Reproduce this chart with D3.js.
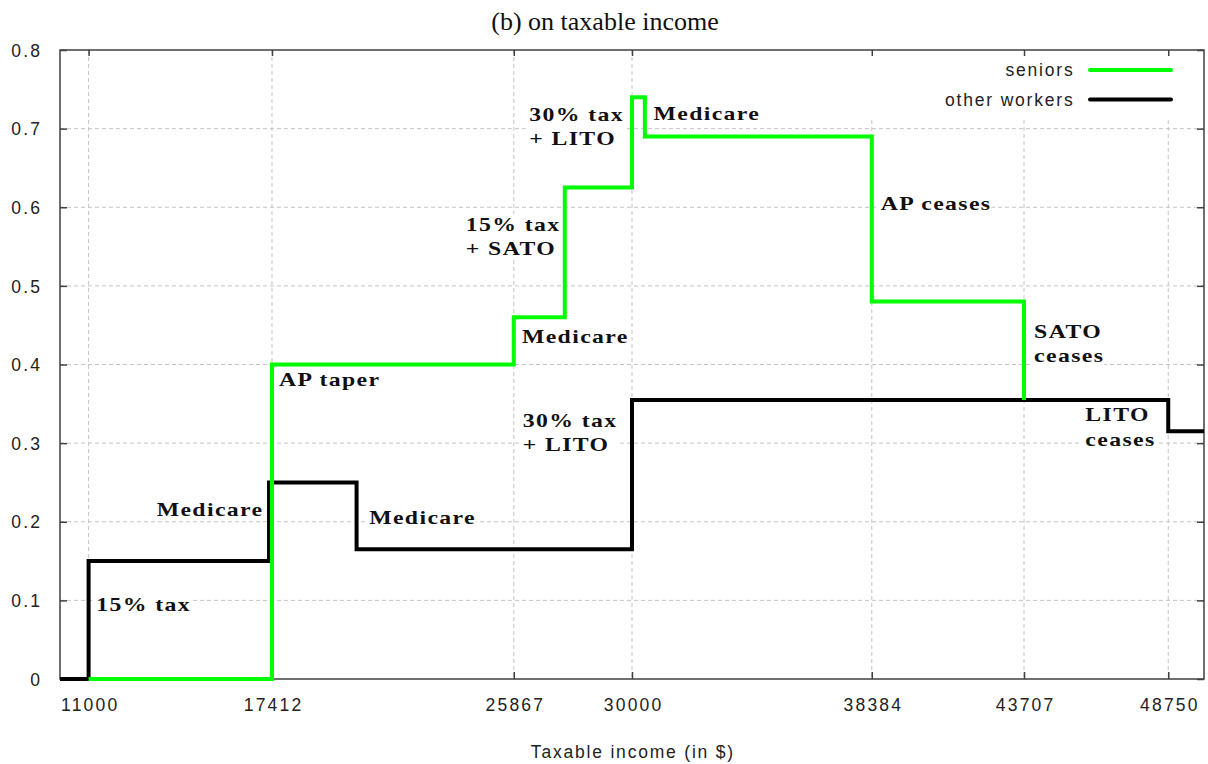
<!DOCTYPE html>
<html><head><meta charset="utf-8">
<script src="https://cdn.jsdelivr.net/npm/d3@7"></script>
<style>body{margin:0;background:#fff}</style>
</head><body>
<svg id="c" width="1208" height="764"></svg>
<script>
// ---- data ----
const xTickValues = [11000, 17412, 25867, 30000, 38384, 43707, 48750];
const yTickValues = [0, 0.1, 0.2, 0.3, 0.4, 0.5, 0.6, 0.7, 0.8];
const yTickLabels = ["0", "0.1", "0.2", "0.3", "0.4", "0.5", "0.6", "0.7", "0.8"];
const seniorsIncome = [11000, 17412, 25867, 27650, 30000, 30450, 38384, 43707];
const seniorsRate   = [0, 0.40, 0.46, 0.625, 0.74, 0.69, 0.48, 0.355];
const workersIncome = [10000, 11000, 17309, 20370, 30000, 48750, 50000];
const workersRate   = [0, 0.15, 0.25, 0.165, 0.355, 0.315, 0.315];
const seriesNames = ["seniors", "other workers"];
const annotations = [
  {lines: ["15% tax"], x: 11270, y: 0.087},
  {lines: ["Medicare"], x: 13380, y: 0.207},
  {lines: ["Medicare"], x: 20810, y: 0.197},
  {lines: ["AP taper"], x: 17660, y: 0.373},
  {lines: ["Medicare"], x: 26150, y: 0.427},
  {lines: ["15% tax", "+ SATO"], x: 24190, y: 0.570},
  {lines: ["30% tax", "+ LITO"], x: 26410, y: 0.710},
  {lines: ["Medicare"], x: 30750, y: 0.711},
  {lines: ["AP ceases"], x: 38700, y: 0.597},
  {lines: ["SATO", "ceases"], x: 44060, y: 0.434},
  {lines: ["30% tax", "+ LITO"], x: 26180, y: 0.321},
  {lines: ["LITO", "ceases"], x: 45850, y: 0.328}
];

// ---- layout ----
const svg = d3.select("#c");
const L = 60, R = 1204, T = 50, B = 679;
const x = d3.scaleLinear().domain([10000, 50000]).range([L, R]);
const y = d3.scaleLinear().domain([0, 0.8]).range([B, T]);
const sans = "'Liberation Sans', Arial, sans-serif";
const serif = "'Liberation Serif', 'Times New Roman', serif";
const axisColor = "#404040";

// grid
const grid = svg.append("g");
grid.selectAll(".vg").data(xTickValues).enter().append("line")
  .attr("x1", d => x(d)).attr("x2", d => x(d)).attr("y1", T).attr("y2", B)
  .attr("stroke", "#c4c4c4").attr("stroke-width", 1).attr("stroke-dasharray", "4,3");
grid.selectAll(".hg").data(yTickValues.slice(1, -1)).enter().append("line")
  .attr("x1", L).attr("x2", R).attr("y1", d => y(d)).attr("y2", d => y(d))
  .attr("stroke", "#c4c4c4").attr("stroke-width", 1).attr("stroke-dasharray", "4,3");

// legend background (covers grid)
svg.append("rect").attr("x", 855).attr("y", T + 1).attr("width", R - 856).attr("height", 66).attr("fill", "#fff");

// axes via d3
const fmtY = (d, i) => yTickLabels[i];
const axB = svg.append("g").attr("transform", `translate(0,${B})`)
  .call(d3.axisBottom(x).tickValues(xTickValues).tickSize(-7).tickPadding(20).tickFormat(d3.format("d")));
const axT = svg.append("g").attr("transform", `translate(0,${T})`)
  .call(d3.axisTop(x).tickValues(xTickValues).tickSize(-6).tickFormat(""));
const axL = svg.append("g").attr("transform", `translate(${L},0)`)
  .call(d3.axisLeft(y).tickValues(yTickValues).tickSize(-7).tickPadding(20).tickFormat(fmtY));
const axR = svg.append("g").attr("transform", `translate(${R},0)`)
  .call(d3.axisRight(y).tickValues(yTickValues).tickSize(-7).tickFormat(""));
[axB, axT, axL, axR].forEach(a => {
  a.select(".domain").remove();
  a.selectAll(".tick line").attr("stroke", axisColor).attr("stroke-width", 1.5);
  a.selectAll("text").attr("font-family", sans).attr("font-size", 17.5)
    .attr("fill", "#222").attr("letter-spacing", "2.2px");
});
axB.selectAll("text").attr("dx", "1.1");
axL.selectAll("text").attr("dx", "2.2").attr("dy", "0.35em");
axB.selectAll("text").attr("dy", "0.71em");

// border
svg.append("rect").attr("x", L).attr("y", T).attr("width", R - L).attr("height", B - T)
  .attr("fill", "none").attr("stroke", axisColor).attr("stroke-width", 1.5);

// lines
const line = d3.line().x(d => x(d[0])).y(d => y(d[1])).curve(d3.curveStepAfter);
const workersPts = workersIncome.map((v, i) => [v, workersRate[i]]);
const seniorsPts = seniorsIncome.map((v, i) => [v, seniorsRate[i]]);
svg.append("path").attr("d", line(workersPts)).attr("fill", "none")
  .attr("stroke", "#000").attr("stroke-width", 4).attr("stroke-linejoin", "miter");
svg.append("path").attr("d", line(seniorsPts)).attr("fill", "none")
  .attr("stroke", "#00ff00").attr("stroke-width", 4).attr("stroke-linejoin", "miter");

// annotations with white background (horizontally stretched bold serif)
annotations.forEach(a => {
  const g = svg.append("g").attr("transform", `translate(${x(a.x)},${y(a.y)}) scale(1.25,1)`);
  const bg = g.append("rect").attr("fill", "#fff");
  const t = g.append("text").attr("font-family", serif).attr("font-weight", "bold")
    .attr("font-size", 19).attr("letter-spacing", "1.1px").attr("fill", "#111");
  a.lines.forEach((s, i) => {
    t.append("tspan").attr("x", 0).attr("y", i * 24.5).text(s);
  });
  const bb = t.node().getBBox();
  bg.attr("x", bb.x - 3).attr("y", bb.y).attr("width", bb.width + 3).attr("height", bb.height);
});

// legend
const legY = [70, 99.5];
const legColors = ["#00ff00", "#000"];
seriesNames.forEach((n, i) => {
  svg.append("text").attr("x", 1072.7 + 1.8).attr("y", legY[i] + 6.3).attr("text-anchor", "end")
    .attr("font-family", sans).attr("font-size", 17.5).attr("letter-spacing", "1.8px")
    .attr("fill", "#222").text(n);
  svg.append("line").attr("x1", 1090).attr("x2", 1171).attr("y1", legY[i]).attr("y2", legY[i])
    .attr("stroke", legColors[i]).attr("stroke-width", 4).attr("stroke-linecap", "round");
});

// titles
svg.append("text").attr("x", 605).attr("y", 30).attr("text-anchor", "middle")
  .attr("font-family", serif).attr("font-size", 26).attr("fill", "#111").text("(b) on taxable income");
svg.append("text").attr("x", 632).attr("y", 757.5).attr("text-anchor", "middle")
  .attr("font-family", sans).attr("font-size", 17.5).attr("letter-spacing", "1.8px")
  .attr("dx", "0.9").attr("fill", "#222").text("Taxable income (in $)");
</script>
</body></html>
